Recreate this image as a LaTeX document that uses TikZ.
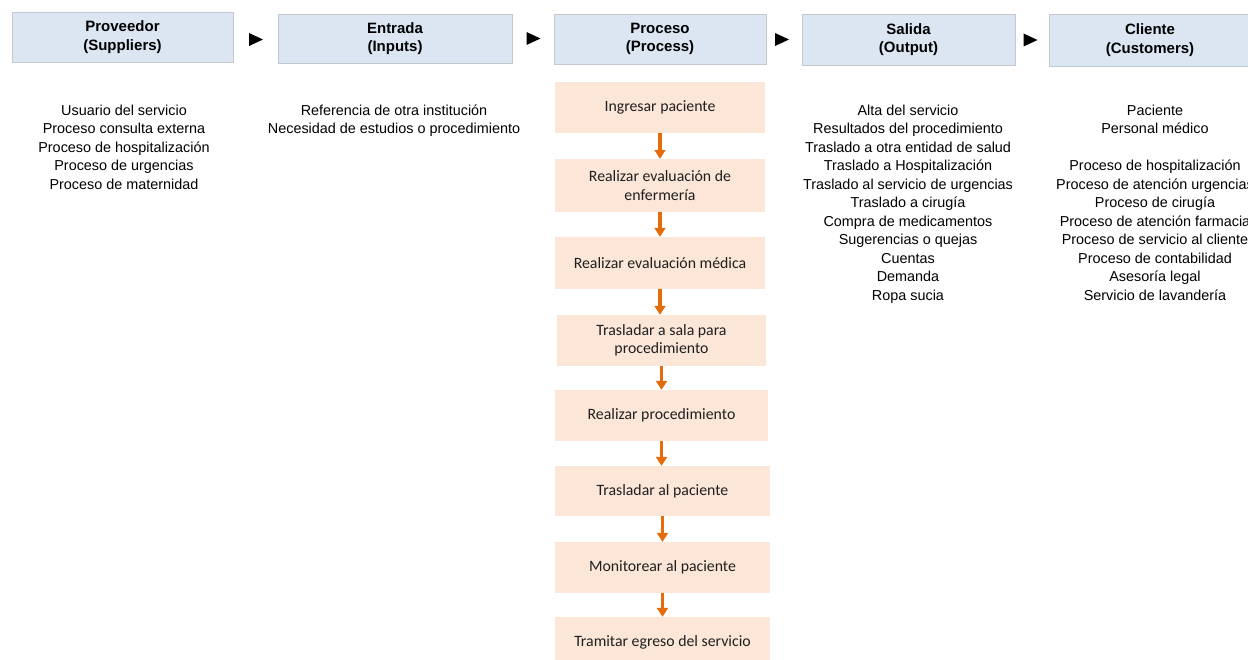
\documentclass[tikz,border=0pt]{standalone}
\usepackage{fontspec}
\setmainfont{Liberation Sans}
\newfontfamily\boxfont{Carlito}
\usetikzlibrary{arrows.meta}
\definecolor{headfill}{HTML}{DCE6F2}
\definecolor{headline}{HTML}{C4C9CF}
\definecolor{stepfill}{HTML}{FCE6D8}
\definecolor{flowcol}{HTML}{E46C0A}
\tikzset{
  head/.style={draw=headline, line width=0.8pt, fill=headfill, align=center,
    font=\bfseries\fontsize{15}{18.5}\selectfont, inner sep=0pt},
  stepbox/.style={fill=stepfill, align=center, text=black!88,
    font=\boxfont\fontsize{15.8}{18.5}\selectfont, inner sep=0pt},
  itemlist/.style={align=center, font=\fontsize{14.4}{18.5}\selectfont,
    inner sep=0pt, anchor=north},
  flow/.style={draw=flowcol, line width=3.6pt, -{Triangle[width=11pt,length=9pt]}},
  pointer/.style={fill=black}
}
\begin{document}
\begin{tikzpicture}[x=1pt,y=-1pt]
\useasboundingbox (0,0) rectangle (1248,660);
\clip (0,0) rectangle (1248,660);

% SIPOC header row
\node[head, minimum width=221pt, minimum height=50pt] (sup) at (122.5,37) {Proveedor\\(Suppliers)};
\node[head, minimum width=234pt, minimum height=49pt] (inp) at (395,38.5) {Entrada\\(Inputs)};
\node[head, minimum width=212pt, minimum height=50pt] (proc) at (660,39) {Proceso\\(Process)};
\node[head, minimum width=213pt, minimum height=51pt] (out) at (908.5,39.5) {Salida\\(Output)};
\node[head, minimum width=202pt, minimum height=52pt] (cus) at (1150,40) {Cliente\\(Customers)};

% pointers between header boxes
\foreach \px/\py in {256/39.5, 533.5/38.5, 782/39.5, 1030.5/40}
  \fill[pointer] (\px-7,\py-6.5) -- (\px+7,\py) -- (\px-7,\py+6.5) -- cycle;

% column contents
\node[itemlist] (suplist) at (124,104.5) {Usuario del servicio\\Proceso consulta externa\\Proceso de hospitalización\\Proceso de urgencias\\Proceso de maternidad};
\node[itemlist] (inplist) at (394,104.5) {Referencia de otra institución\\Necesidad de estudios o procedimiento};
\node[itemlist] (outlist) at (908,104.5) {Alta del servicio\\Resultados del procedimiento\\Traslado a otra entidad de salud\\Traslado a Hospitalización\\Traslado al servicio de urgencias\\Traslado a cirugía\\Compra de medicamentos\\Sugerencias o quejas\\Cuentas\\Demanda\\Ropa sucia};
\node[itemlist] (cuslist) at (1155,104.5) {Paciente\\Personal médico\\[18.5pt]Proceso de hospitalización\\Proceso de atención urgencias\\Proceso de cirugía\\Proceso de atención farmacia\\Proceso de servicio al cliente\\Proceso de contabilidad\\Asesoría legal\\Servicio de lavandería};

% process steps
\node[stepbox, minimum width=210pt, minimum height=51pt] (p1) at (660,107.5) {Ingresar paciente};
\node[stepbox, minimum width=210pt, minimum height=53pt] (p2) at (660,185.5) {Realizar evaluación de\\enfermería};
\node[stepbox, minimum width=210pt, minimum height=52pt] (p3) at (660,263) {Realizar evaluación médica};
\node[stepbox, minimum width=209pt, minimum height=51pt] (p4) at (661.5,340.5) {Trasladar a sala para\\procedimiento};
\node[stepbox, minimum width=213pt, minimum height=51pt] (p5) at (661.5,415.5) {Realizar procedimiento};
\node[stepbox, minimum width=215pt, minimum height=50pt] (p6) at (662.5,491) {Trasladar al paciente};
\node[stepbox, minimum width=215pt, minimum height=51pt] (p7) at (662.5,567.5) {Monitorear al paciente};
\node[stepbox, minimum width=215pt, minimum height=51pt] (p8) at (662.5,642.5) {Tramitar egreso del servicio};

% flow between steps
\foreach \a/\b in {p1/p2, p2/p3, p3/p4, p4/p5, p5/p6, p6/p7, p7/p8}
  \draw[flow] (\a) -- (\a |- \b.north);
\end{tikzpicture}
\end{document}
